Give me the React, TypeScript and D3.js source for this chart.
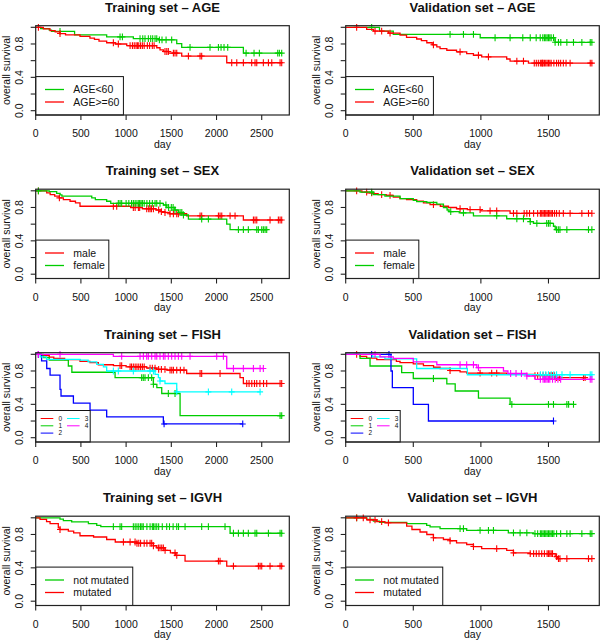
import React from 'react';
import * as d3 from 'd3';

// ---------- DATA (days, survival) ----------
// Training AGE
const trAgeLowSteps = [[55,0.985],[150,0.965],[175,0.95],[430,0.91],[785,0.885],[1080,0.865],[1357,0.85],[1560,0.805],[1615,0.76],[2297,0.69]];
const trAgeLowCens = [269,933,959,1154,1184,1209,1246,1272,1294,1320,1339,1368,1397,1442,1504,1707,1928,2021,2050,2083,2124,2327,2415,2474,2677,2695,2721];
const trAgeHighSteps = [[85,0.98],[159,0.96],[215,0.945],[269,0.925],[330,0.91],[490,0.89],[600,0.87],[650,0.855],[700,0.835],[785,0.815],[880,0.80],[1007,0.78],[1339,0.755],[1375,0.73],[1412,0.71],[1470,0.69],[1615,0.655],[2113,0.575]];
const trAgeHighCens = [30,269,859,914,1044,1070,1090,1110,1125,1140,1160,1180,1200,1235,1260,1290,1310,1430,1450,1467,1523,1541,1560,1689,1818,1836,2168,2224,2297,2389,2426,2445,2518,2574,2611,2703,2721];
// Validation AGE
const vaAgeLowSteps = [[250,0.955],[352,0.915],[995,0.875],[1549,0.82]];
const vaAgeLowCens = [192,772,871,945,1105,1216,1310,1365,1409,1439,1458,1470,1480,1490,1500,1510,1520,1537,1549,1574,1591,1636,1685,1747,1809,1821];
const vaAgeHighSteps = [[155,0.975],[205,0.955],[316,0.93],[402,0.905],[450,0.88],[525,0.86],[560,0.84],[600,0.815],[640,0.79],[674,0.765],[698,0.745],[748,0.725],[820,0.705],[895,0.685],[945,0.665],[1006,0.645],[1191,0.62],[1216,0.595],[1352,0.57]];
const vaAgeHighCens = [81,217,266,328,649,846,982,1056,1266,1315,1395,1410,1425,1440,1450,1455,1460,1470,1480,1490,1500,1510,1520,1540,1560,1575,1590,1610,1630,1660,1809,1821];
// Training SEX
const trSexMaleSteps = [[122,0.975],[160,0.955],[210,0.935],[262,0.915],[306,0.895],[380,0.875],[440,0.855],[490,0.815],[1050,0.80],[1180,0.785],[1330,0.77],[1390,0.75],[1430,0.74],[1480,0.725],[1670,0.70],[2297,0.65]];
const trSexMaleCens = [30,262,859,896,1080,1100,1136,1150,1228,1250,1265,1280,1302,1360,1390,1430,1486,1523,1560,1578,1818,1836,2021,2039,2058,2150,2205,2408,2426,2445,2592,2684,2703,2721];
const trSexFemaleSteps = [[150,0.99],[232,0.97],[270,0.95],[290,0.935],[620,0.915],[660,0.895],[785,0.875],[830,0.85],[1412,0.83],[1450,0.80],[1540,0.77],[1580,0.74],[1634,0.71],[1689,0.66],[2113,0.60],[2150,0.535]];
const trSexFemaleCens = [30,914,933,951,1000,1030,1060,1080,1100,1120,1140,1150,1165,1180,1200,1230,1260,1290,1320,1339,1375,1440,1470,1500,1520,1540,1597,1616,1634,1836,1910,2242,2297,2352,2445,2463,2500,2518,2537,2555];
// Validation SEX
const vaSexMaleSteps = [[120,0.985],[160,0.975],[200,0.965],[240,0.955],[300,0.945],[352,0.925],[402,0.905],[450,0.895],[525,0.875],[575,0.855],[624,0.835],[700,0.815],[760,0.80],[820,0.785],[900,0.775],[1000,0.76],[1216,0.73]];
const vaSexMaleCens = [81,155,192,266,328,649,846,920,994,1068,1117,1241,1266,1320,1340,1360,1390,1420,1440,1450,1460,1470,1480,1490,1500,1510,1520,1530,1545,1560,1580,1610,1660,1747,1796,1821];
const vaSexFemaleSteps = [[106,0.985],[205,0.955],[290,0.935],[402,0.905],[500,0.885],[525,0.87],[600,0.86],[674,0.84],[723,0.80],[750,0.77],[765,0.75],[840,0.735],[945,0.70],[1191,0.665],[1365,0.63],[1389,0.61],[1537,0.575],[1550,0.535]];
const vaSexFemaleCens = [192,777,871,1117,1266,1315,1365,1414,1487,1500,1512,1560,1573,1585,1636,1796,1821];
// Training FISH
const trFish0Steps = [[60,0.985],[150,0.965],[200,0.95],[320,0.935],[490,0.915],[600,0.90],[693,0.875],[860,0.865],[1000,0.85],[1228,0.835],[1339,0.82],[1449,0.81],[1670,0.77],[2260,0.72],[2297,0.65]];
const trFish0Cens = [30,933,951,1044,1060,1080,1100,1120,1140,1160,1180,1200,1265,1290,1320,1360,1390,1430,1486,1505,1523,1560,1600,1640,1818,1836,2039,2334,2360,2390,2420,2445,2480,2520,2555,2703,2721];
const trFish1Steps = [[85,0.96],[150,0.93],[361,0.86],[400,0.785],[878,0.72],[1302,0.64],[1340,0.60],[1394,0.53],[1597,0.265]];
const trFish1Cens = [1172,1190,1209,1246,1283,1302,1467,1541,2703,2721];
const trFish2Steps = [[65,0.92],[122,0.83],[159,0.75],[269,0.58],[280,0.50],[417,0.415],[601,0.33],[785,0.25],[1412,0.165]];
const trFish2Cens = [30,1420,2290];
const trFish3Steps = [[50,0.97],[120,0.94],[490,0.93],[580,0.91],[675,0.88],[749,0.85],[785,0.80],[1320,0.76],[1357,0.72],[1375,0.68],[1430,0.65],[1560,0.55]];
const trFish3Cens = [859,914,1080,1265,1302,1375,1560,1910,2168,2482];
const trFish4Steps = [[859,0.975],[2113,0.83]];
const trFish4Cens = [30,269,951,1154,1191,1228,1246,1283,1320,1339,1375,1412,1430,1467,1504,1541,1578,1615,1707,2002,2076,2187,2297,2408,2482,2518];
// Validation FISH
const vaFish0Steps = [[106,0.975],[155,0.955],[230,0.935],[375,0.915],[402,0.90],[500,0.885],[575,0.865],[650,0.845],[698,0.83],[772,0.805],[846,0.79],[895,0.775],[1191,0.76],[1389,0.745],[1550,0.72]];
const vaFish0Cens = [81,772,994,1080,1117,1400,1420,1440,1460,1480,1500,1510,1520,1530,1545,1560,1580,1759,1771];
const vaFish1Steps = [[106,0.95],[180,0.86],[414,0.78],[500,0.71],[748,0.645],[810,0.56],[982,0.475],[1216,0.40]];
const vaFish1Cens = [649,1229,1500,1537,1636,1649,1685];
const vaFish2Steps = [[335,0.8],[345,0.6],[500,0.4],[612,0.2]];
const vaFish2Cens = [192,320,1537];
const vaFish3Steps = [[200,0.97],[290,0.945],[525,0.83],[900,0.755]];
const vaFish3Cens = [1440,1460,1480,1500,1520,1540,1560,1600,1660,1809,1821];
const vaFish4Steps = [[254,0.97],[352,0.95],[500,0.91],[674,0.875],[970,0.84],[1167,0.80],[1200,0.77],[1340,0.74],[1401,0.70]];
const vaFish4Cens = [217,846,895,945,982,1220,1260,1300,1340,1440,1460,1470,1480,1490,1500,1510,1530,1550,1570,1590,1809,1821];
// Training IGVH
const trIgvhNotSteps = [[269,0.985],[306,0.965],[398,0.95],[583,0.93],[675,0.91],[720,0.895],[2150,0.815]];
const trIgvhNotCens = [859,933,951,1080,1100,1120,1140,1160,1175,1190,1230,1265,1290,1302,1320,1339,1360,1400,1449,1480,1520,1560,1580,1652,1836,1910,2094,2187,2242,2297,2352,2426,2445,2574,2703,2721];
const trIgvhMutSteps = [[48,0.98],[120,0.955],[159,0.93],[250,0.88],[269,0.86],[361,0.84],[420,0.82],[490,0.785],[640,0.77],[785,0.74],[880,0.71],[1120,0.695],[1302,0.665],[1339,0.64],[1431,0.61],[1490,0.58],[1545,0.55],[1652,0.48],[2113,0.42]];
const trIgvhMutCens = [269,970,1044,1099,1120,1140,1160,1200,1230,1265,1283,1302,1357,1375,1394,1412,1431,1541,1560,2021,2039,2187,2463,2482,2500,2592,2703,2721];
// Validation IGVH
const vaIgvhNotSteps = [[155,0.98],[205,0.96],[250,0.945],[451,0.93],[599,0.91],[624,0.89],[698,0.87],[895,0.85],[1203,0.82],[1389,0.81]];
const vaIgvhNotCens = [81,846,871,994,1056,1093,1241,1290,1340,1400,1420,1440,1450,1460,1470,1480,1490,1500,1510,1520,1530,1540,1560,1590,1636,1660,1747,1809,1821];
const vaIgvhMutSteps = [[155,0.975],[230,0.955],[290,0.94],[451,0.90],[490,0.86],[550,0.83],[600,0.80],[649,0.76],[723,0.74],[772,0.725],[820,0.70],[895,0.68],[945,0.655],[1006,0.63],[1191,0.61],[1241,0.58],[1365,0.57],[1550,0.535],[1568,0.51]];
const vaIgvhMutCens = [81,130,180,217,266,316,649,772,945,1117,1241,1365,1390,1410,1430,1450,1470,1490,1500,1510,1520,1530,1560,1574,1585,1636,1796,1821];

const trainTicks = [0, 500, 1000, 1500, 2000, 2500];
const validTicks = [0, 500, 1000, 1500];
const yTicks = [0, 0.2, 0.4, 0.6, 0.8, 1.0];
const yLabels = [0, 0.4, 0.8];

const RED = '#FF0000', GREEN = '#00CD00', BLUE = '#0000FF', CYAN = '#00FFFF', MAGENTA = '#FF00FF';

type Curve = { label: string; color: string; steps: number[][]; cens: number[] };
type Panel = { title: string; col: number; row: number; fish?: boolean; curves: Curve[] };

const panels: Panel[] = [
  { title: 'Training set \u2013 AGE', col: 0, row: 0, curves: [
    { label: 'AGE<60', color: GREEN, steps: trAgeLowSteps, cens: trAgeLowCens },
    { label: 'AGE>=60', color: RED, steps: trAgeHighSteps, cens: trAgeHighCens }] },
  { title: 'Validation set \u2013 AGE', col: 1, row: 0, curves: [
    { label: 'AGE<60', color: GREEN, steps: vaAgeLowSteps, cens: vaAgeLowCens },
    { label: 'AGE>=60', color: RED, steps: vaAgeHighSteps, cens: vaAgeHighCens }] },
  { title: 'Training set \u2013 SEX', col: 0, row: 1, curves: [
    { label: 'male', color: RED, steps: trSexMaleSteps, cens: trSexMaleCens },
    { label: 'female', color: GREEN, steps: trSexFemaleSteps, cens: trSexFemaleCens }] },
  { title: 'Validation set \u2013 SEX', col: 1, row: 1, curves: [
    { label: 'male', color: RED, steps: vaSexMaleSteps, cens: vaSexMaleCens },
    { label: 'female', color: GREEN, steps: vaSexFemaleSteps, cens: vaSexFemaleCens }] },
  { title: 'Training set \u2013 FISH', col: 0, row: 2, fish: true, curves: [
    { label: '0', color: RED, steps: trFish0Steps, cens: trFish0Cens },
    { label: '1', color: GREEN, steps: trFish1Steps, cens: trFish1Cens },
    { label: '2', color: BLUE, steps: trFish2Steps, cens: trFish2Cens },
    { label: '3', color: CYAN, steps: trFish3Steps, cens: trFish3Cens },
    { label: '4', color: MAGENTA, steps: trFish4Steps, cens: trFish4Cens }] },
  { title: 'Validation set \u2013 FISH', col: 1, row: 2, fish: true, curves: [
    { label: '0', color: RED, steps: vaFish0Steps, cens: vaFish0Cens },
    { label: '1', color: GREEN, steps: vaFish1Steps, cens: vaFish1Cens },
    { label: '2', color: BLUE, steps: vaFish2Steps, cens: vaFish2Cens },
    { label: '3', color: CYAN, steps: vaFish3Steps, cens: vaFish3Cens },
    { label: '4', color: MAGENTA, steps: vaFish4Steps, cens: vaFish4Cens }] },
  { title: 'Training set \u2013 IGVH', col: 0, row: 3, curves: [
    { label: 'not mutated', color: GREEN, steps: trIgvhNotSteps, cens: trIgvhNotCens },
    { label: 'mutated', color: RED, steps: trIgvhMutSteps, cens: trIgvhMutCens }] },
  { title: 'Validation set \u2013 IGVH', col: 1, row: 3, curves: [
    { label: 'not mutated', color: GREEN, steps: vaIgvhNotSteps, cens: vaIgvhNotCens },
    { label: 'mutated', color: RED, steps: vaIgvhMutSteps, cens: vaIgvhMutCens }] },
];

// ---------- LAYOUT ----------
const FONT = '"Liberation Sans", Arial, Helvetica, sans-serif';
const COL_X = [35.7, 345.7];
const BOX_W = 253.6;
const ROW_STEP = 163.5;
const Y1 = 27.3, Y0 = 110.7, BOX_TOP = 25.7, BOX_BOTTOM = 115;
const X_MAX = [2805, 1876];

let measureCtx: CanvasRenderingContext2D | null = null;
function textWidth(s: string, size: number) {
  if (!measureCtx) measureCtx = document.createElement('canvas').getContext('2d');
  if (!measureCtx) return s.length * size * 0.55;
  measureCtx.font = `${size}px ${FONT}`;
  return measureCtx.measureText(s).width;
}

function survAt(steps: number[][], t: number) {
  let s = 1;
  for (const [tt, v] of steps) if (tt <= t) s = v;
  return s;
}

function PanelView({ p }: { p: Panel }) {
  const oy = p.row * ROW_STEP;
  const left = COL_X[p.col];
  const right = left + BOX_W;
  const top = BOX_TOP + oy, bottom = BOX_BOTTOM + oy;
  const x = d3.scaleLinear().domain([0, X_MAX[p.col]]).range([left, right]);
  const y = d3.scaleLinear().domain([0, 1]).range([Y0 + oy, Y1 + oy]);
  const ticks = p.col === 0 ? trainTicks : validTicks;
  const line = d3.line<number[]>().x(d => x(d[0])).y(d => y(d[1])).curve(d3.curveStepAfter);
  const cx = (left + right) / 2;
  const cy = (top + bottom) / 2;

  let legend: React.ReactNode;
  if (!p.fish) {
    const w = 41.6 + Math.max(...p.curves.map(c => textWidth(c.label, 10.5)));
    const rows = [bottom - 25.5, bottom - 13];
    legend = (
      <g>
        <rect x={left} y={bottom - 38.4} width={w} height={38.4} fill="white" stroke="#111" strokeWidth={1} />
        {p.curves.map((c, i) => (
          <g key={i}>
            <line x1={left + 9.3} x2={left + 28.3} y1={rows[i]} y2={rows[i]} stroke={c.color} strokeWidth={1.3} />
            <text x={left + 37.6} y={rows[i] + 3.8} fontSize={10.5} fontFamily={FONT} fill="#111">{c.label}</text>
          </g>
        ))}
      </g>
    );
  } else {
    const rows = [bottom - 23.5, bottom - 16.2, bottom - 8.9];
    legend = (
      <g>
        <rect x={left} y={bottom - 31.5} width={54.5} height={31.5} fill="white" stroke="#111" strokeWidth={1} />
        {p.curves.map((c, i) => {
          const colI = i < 3 ? 0 : 1;
          const r = i < 3 ? i : i - 3;
          const lx = left + (colI === 0 ? 5 : 31.3);
          return (
            <g key={i}>
              <line x1={lx} x2={lx + 12.6} y1={rows[r]} y2={rows[r]} stroke={c.color} strokeWidth={1} />
              <text x={lx + 17.8} y={rows[r] + 2.3} fontSize={6.5} fontFamily={FONT} fill="#111">{c.label}</text>
            </g>
          );
        })}
      </g>
    );
  }

  return (
    <g>
      <text x={cx} y={11.5 + oy} textAnchor="middle" fontSize={13} fontWeight="bold" fontFamily={FONT} fill="#111">{p.title}</text>
      {p.curves.map((c, i) => {
        const end = Math.max(c.steps.length ? c.steps[c.steps.length - 1][0] : 0, ...c.cens);
        const pts = [[0, 1], ...c.steps, [end, survAt(c.steps, end)]];
        return (
          <g key={i}>
            <path d={line(pts) || ''} fill="none" stroke={c.color} strokeWidth={1.3} />
            {c.cens.map((t, j) => {
              const px = x(t), py = y(survAt(c.steps, t));
              return <path key={j} d={`M${px - 3},${py}H${px + 3}M${px},${py - 3.4}V${py + 3.4}`} stroke={c.color} strokeWidth={1.1} fill="none" />;
            })}
          </g>
        );
      })}
      {legend}
      <rect x={left} y={top} width={right - left} height={bottom - top} fill="none" stroke="#222" strokeWidth={1.2} />
      {ticks.map(t => (
        <g key={t}>
          <line x1={x(t)} x2={x(t)} y1={bottom} y2={bottom + 5} stroke="#222" strokeWidth={1.1} />
          <text x={x(t)} y={bottom + 22} textAnchor="middle" fontSize={10.5} fontFamily={FONT} fill="#111">{t}</text>
        </g>
      ))}
      {yTicks.map(t => (
        <line key={t} x1={left - 5} x2={left} y1={y(t)} y2={y(t)} stroke="#222" strokeWidth={1.1} />
      ))}
      {yLabels.map(t => {
        const tx = left - 12.7, ty = y(t);
        return <text key={t} x={tx} y={ty} transform={`rotate(-90 ${tx} ${ty})`} textAnchor="middle" fontSize={10.5} fontFamily={FONT} fill="#111">{t.toFixed(1)}</text>;
      })}
      <text x={left - 25.7} y={cy} transform={`rotate(-90 ${left - 25.7} ${cy})`} textAnchor="middle" fontSize={10.5} fontFamily={FONT} fill="#111">overall survival</text>
      <text x={cx} y={bottom + 32.5} textAnchor="middle" fontSize={10.5} fontFamily={FONT} fill="#111">day</text>
    </g>
  );
}

export default function App() {
  return (
    <svg width={600} height={642} style={{ position: 'absolute', left: 0, top: 0, background: 'white' }}>
      <rect width={600} height={642} fill="white" />
      {panels.map((p, i) => <PanelView key={i} p={p} />)}
    </svg>
  );
}
